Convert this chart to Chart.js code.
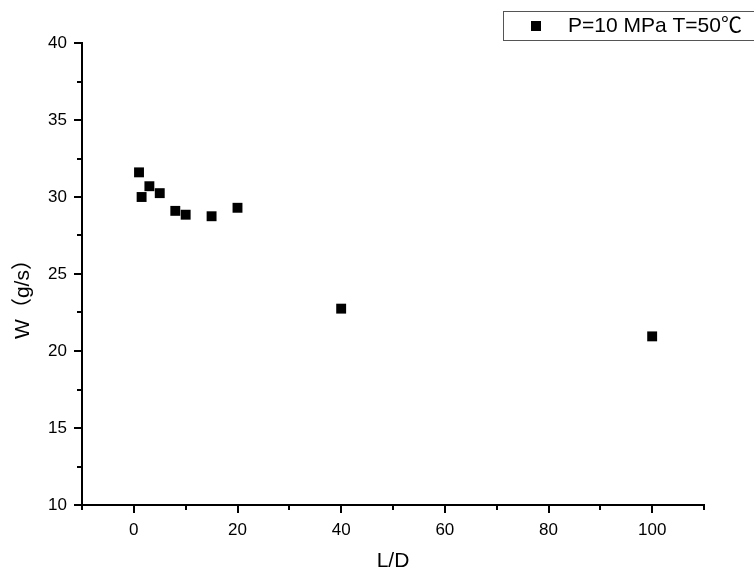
<!DOCTYPE html>
<html>
<head>
<meta charset="utf-8">
<script src="https://cdn.jsdelivr.net/npm/chart.js@4/dist/chart.umd.min.js"></script>
<style>
  html, body { margin: 0; padding: 0; background: #fff; }
  #c { display: block; }
</style>
</head>
<body>
<canvas id="c" width="754" height="575"></canvas>
<script>
// ---- data ----
const ldRatio  = [1, 1.5, 3, 5, 8, 10, 15, 20, 40, 100];
const flowRate = [31.6, 30.0, 30.7, 30.25, 29.1, 28.85, 28.75, 29.3, 22.75, 20.95];
const seriesLabel = 'P=10 MPa T=50℃';
const xTitle = 'L/D';
const yTitle = 'W（g/s）';
const xMajorStep = 20, xMinorStep = 10;
const yMajorStep = 5,  yMinorStep = 2.5;

const FONT = '"Liberation Sans", Arial, "Noto Sans CJK SC", sans-serif';

// Tick marks (major long, minor short), placed through the scales
const tickPlugin = {
  id: 'originTicks',
  afterDraw(chart) {
    const ctx = chart.ctx;
    const xs = chart.scales.x, ys = chart.scales.y;
    const area = chart.chartArea;
    ctx.save();
    ctx.strokeStyle = '#000';
    ctx.lineWidth = 2;
    ctx.beginPath();
    for (let v = xs.min; v <= xs.max + 1e-9; v += xMinorStep) {
      const px = Math.round(xs.getPixelForValue(v));
      const major = Math.abs(v % xMajorStep) < 1e-9;
      ctx.moveTo(px, area.bottom);
      ctx.lineTo(px, area.bottom + (major ? 8 : 5));
    }
    for (let v = ys.min; v <= ys.max + 1e-9; v += yMinorStep) {
      const py = Math.round(ys.getPixelForValue(v));
      const major = Math.abs(v % yMajorStep) < 1e-9;
      ctx.moveTo(area.left, py);
      ctx.lineTo(area.left - (major ? 8 : 5), py);
    }
    ctx.stroke();
    ctx.restore();
  }
};

// Y title (vertical) and boxed legend
const decoPlugin = {
  id: 'deco',
  afterDraw(chart) {
    const ctx = chart.ctx;
    const area = chart.chartArea;
    ctx.save();
    // y title
    ctx.font = '21px ' + FONT;
    ctx.fillStyle = '#000';
    ctx.textAlign = 'center';
    ctx.textBaseline = 'middle';
    ctx.translate(23, (area.top + area.bottom) / 2 + 20);
    ctx.rotate(-Math.PI / 2);
    ctx.fillText(yTitle, 0, 0);
    ctx.restore();

    // legend box
    ctx.save();
    ctx.strokeStyle = '#555';
    ctx.lineWidth = 1;
    ctx.strokeRect(503.5, 11.5, 260, 29);
    ctx.fillStyle = '#000';
    ctx.fillRect(531, 21, 10, 10);
    ctx.font = '21px ' + FONT;
    ctx.textAlign = 'left';
    ctx.textBaseline = 'middle';
    ctx.fillText(chart.data.datasets[0].label, 568, 26);
    ctx.restore();
  }
};

new Chart(document.getElementById('c'), {
  type: 'scatter',
  data: {
    datasets: [{
      label: seriesLabel,
      data: ldRatio.map((x, i) => ({ x: x, y: flowRate[i] })),
      pointStyle: 'rect',
      pointRadius: 7,
      pointHoverRadius: 7,
      pointBorderWidth: 0,
      backgroundColor: '#000',
      borderColor: '#000'
    }]
  },
  options: {
    responsive: false,
    animation: false,
    devicePixelRatio: 1,
    events: [],
    layout: { padding: { top: 43, right: 50, left: 0, bottom: 0 } },
    plugins: {
      legend: { display: false },
      title: { display: false },
      tooltip: { enabled: false }
    },
    scales: {
      x: {
        type: 'linear',
        min: -10, max: 110,
        grid: { display: false, drawTicks: true, tickLength: 8 },
        border: { display: true, color: '#000', width: 2 },
        ticks: {
          stepSize: xMinorStep,
          padding: 7,
          color: '#000',
          font: { family: FONT, size: 17 },
          maxRotation: 0,
          autoSkip: false,
          callback: (v) => (Math.abs(v % xMajorStep) < 1e-9 ? String(v) : '')
        },
        title: {
          display: true,
          text: xTitle,
          color: '#000',
          font: { family: FONT, size: 21 },
          padding: { top: 0, bottom: 1 }
        },
        afterFit: (s) => { s.height = 70; }
      },
      y: {
        type: 'linear',
        min: 10, max: 40,
        grid: { display: false, drawTicks: true, tickLength: 8 },
        border: { display: true, color: '#000', width: 2 },
        ticks: {
          stepSize: yMajorStep,
          padding: 7,
          color: '#000',
          font: { family: FONT, size: 17 }
        },
        afterFit: (s) => { s.width = 82; }
      }
    }
  },
  plugins: [tickPlugin, decoPlugin]
});
</script>
</body>
</html>
